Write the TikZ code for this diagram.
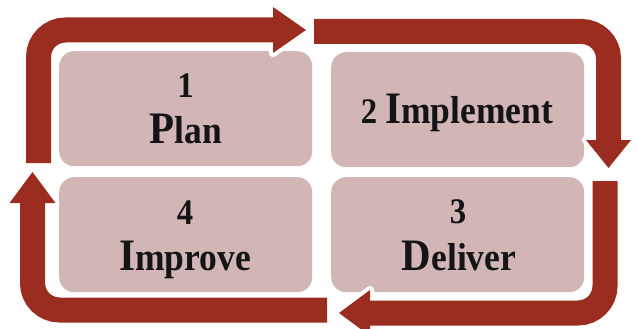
\documentclass[tikz,border=0pt]{standalone}
\usepackage{fontspec}
\newfontfamily\labfont[FakeStretch=0.91]{Liberation Serif}
\definecolor{arrowred}{HTML}{9B2D20}
\definecolor{boxpink}{HTML}{D2B5B5}
\newcommand\digS{\fontsize{36}{40}\selectfont}
\newcommand\capS{\fontsize{45}{48}\selectfont}
\newcommand\restS{\fontsize{39}{42}\selectfont}
\tikzset{
  stepbox/.style={fill=boxpink, draw=none, rounded corners=15pt, inner sep=0pt,
    minimum width=253pt, minimum height=115pt, anchor=north west},
  lab/.style={font=\labfont\bfseries, inner sep=0pt, anchor=base, text=black!92},
  shaftW/.style={draw=white, line width=33pt, rounded corners=27pt},
  shaftR/.style={draw=arrowred, line width=25pt, rounded corners=27pt},
  headW/.style={fill=white, draw=white, line width=8pt, line join=round},
  headR/.style={fill=arrowred, draw=none},
}
\begin{document}
\begin{tikzpicture}[x=1pt, y=-1pt]
\useasboundingbox (0,0) rectangle (637,329);
\clip (0,0) rectangle (637,329);
% boxes
\node[stepbox] (b1) at (59,51) {};
\node[stepbox] (b2) at (331,52) {};
\node[stepbox] (b3) at (331,177) {};
\node[stepbox] (b4) at (59,177) {};
% arrow 1
\coordinate (a1s) at (38.5,163);
\coordinate (a1c) at (38.5,30);
\coordinate (a1b) at (273,30);
\coordinate (a1t) at (306,30);
\draw[shaftW] (a1s) -- (a1c) -- (a1b);
\draw[headW] (273,7) -- (a1t) -- (273,53) -- cycle;
\draw[shaftR] (a1s) -- (a1c) -- (a1b);
\fill[headR] (273,7) -- (a1t) -- (273,53) -- cycle;
% arrow 2
\coordinate (a2s) at (314,31.5);
\coordinate (a2c) at (608.5,31.5);
\coordinate (a2b) at (608.5,140);
\coordinate (a2t) at (608.5,168);
\draw[shaftW] (a2s) -- (a2c) -- (a2b);
\draw[headW] (586,140) -- (a2t) -- (631,140) -- cycle;
\draw[shaftR] (a2s) -- (a2c) -- (a2b);
\fill[headR] (586,140) -- (a2t) -- (631,140) -- cycle;
% arrow 3
\coordinate (a3s) at (605,181);
\coordinate (a3c) at (605,313);
\coordinate (a3b) at (370,313);
\coordinate (a3t) at (339,313);
\draw[shaftW] (a3s) -- (a3c) -- (a3b);
\draw[headW] (370,290) -- (a3t) -- (370,336) -- cycle;
\draw[shaftR] (a3s) -- (a3c) -- (a3b);
\fill[headR] (370,290) -- (a3t) -- (370,336) -- cycle;
% arrow 4
\coordinate (a4s) at (327,310);
\coordinate (a4c) at (32.5,310);
\coordinate (a4b) at (32.5,203);
\coordinate (a4t) at (32.5,172);
\draw[shaftW] (a4s) -- (a4c) -- (a4b);
\draw[headW] (9.5,203) -- (a4t) -- (55.5,203) -- cycle;
\draw[shaftR] (a4s) -- (a4c) -- (a4b);
\fill[headR] (9.5,203) -- (a4t) -- (55.5,203) -- cycle;
% labels
\node[lab] (t1a) at (185.5,97) {\digS 1};
\node[lab] (t1b) at (186,143) {{\capS P}{\restS lan}};
\node[lab] (t2) at (457,123) {{\digS 2\ }{\capS I}{\restS mplement}};
\node[lab] (t3a) at (458,223) {\digS 3};
\node[lab] (t3b) at (459,270) {{\capS D}{\restS eliver}};
\node[lab] (t4a) at (185,224) {\digS 4};
\node[lab] (t4b) at (185,270) {{\capS I}{\restS mprove}};
\end{tikzpicture}
\end{document}
